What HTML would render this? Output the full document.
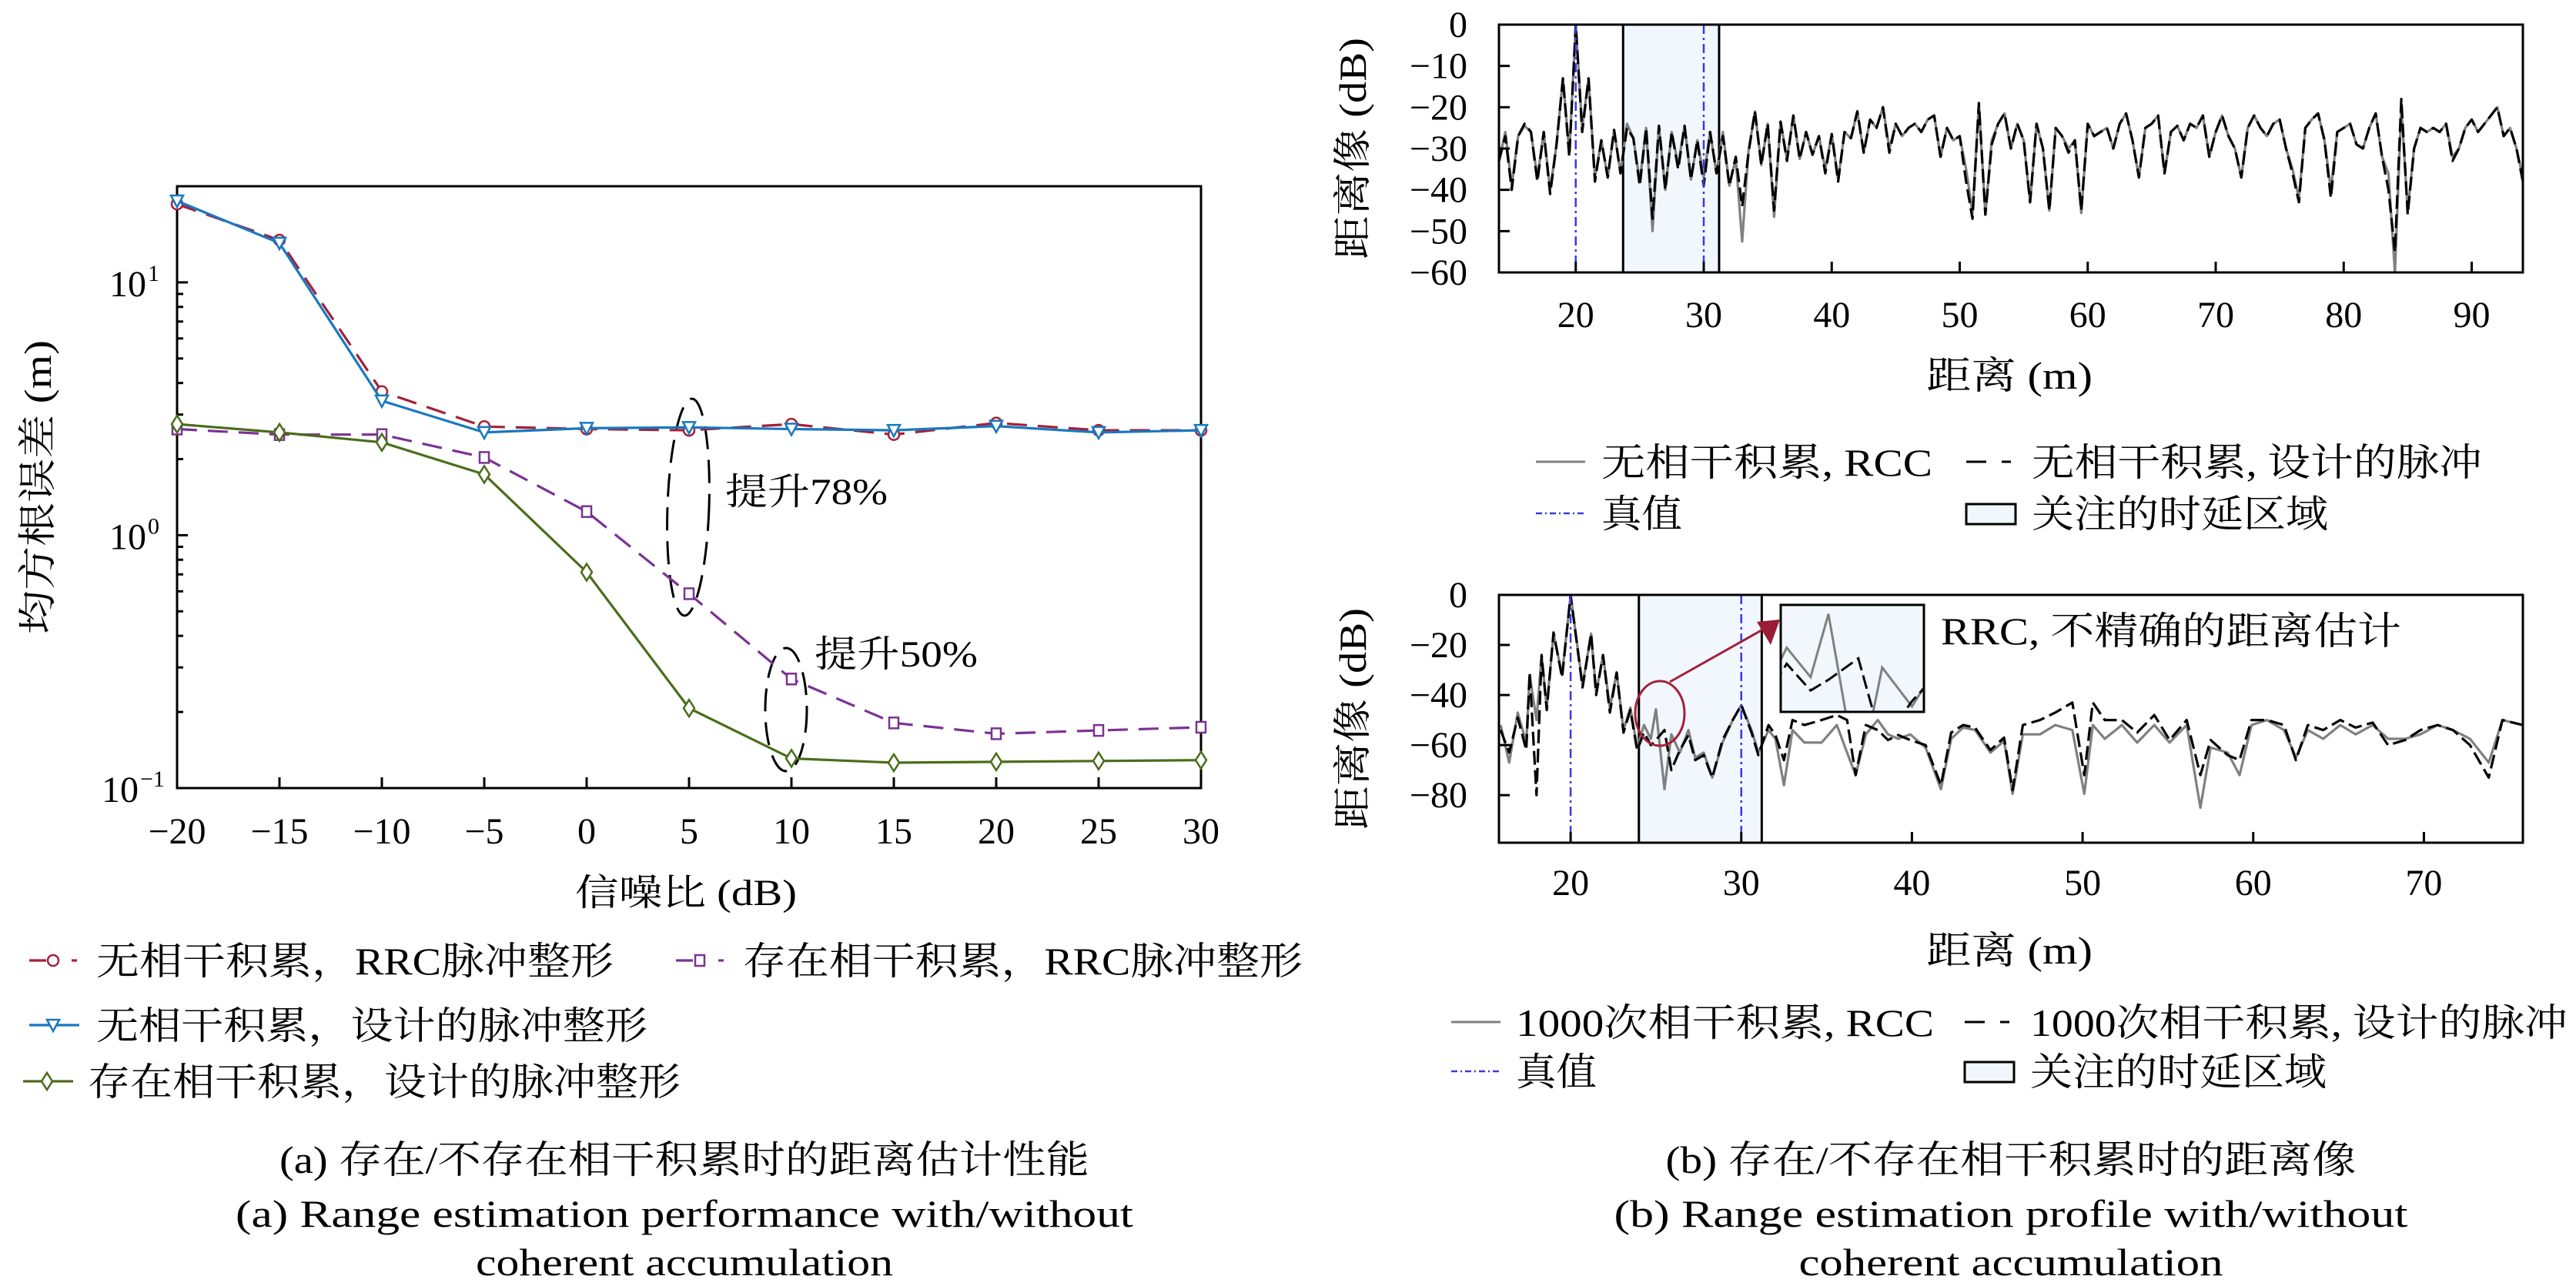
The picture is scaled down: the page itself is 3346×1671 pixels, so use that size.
<!DOCTYPE html>
<html><head><meta charset="utf-8"><style>
html,body{margin:0;padding:0;background:#fff;}
svg{display:block;}
text{font-family:"Liberation Serif","Noto Serif CJK SC","Noto Sans CJK SC",serif;fill:#000;}
</style></head><body>
<svg id="fig" width="3346" height="1671" viewBox="0 0 3346 1671" xmlns="http://www.w3.org/2000/svg">
<g id="left"></g>
<g id="rt"></g>
<g id="rb"></g>
</svg>
<script>
// ---------- Left chart data ----------
const snrCats = [-20,-15,-10,-5,0,5,10,15,20,25,30];
const rmseNoAccRRC = [20.4,14.7,3.7,2.69,2.63,2.6,2.75,2.5,2.78,2.6,2.6];
const rmseNoAccDesign = [21,14.3,3.4,2.55,2.65,2.67,2.63,2.6,2.7,2.55,2.6];
const rmseAccRRC = [2.63,2.5,2.5,2.03,1.24,0.587,0.27,0.181,0.164,0.169,0.174];
const rmseAccDesign = [2.75,2.55,2.33,1.74,0.714,0.207,0.131,0.126,0.127,0.128,0.129];
const yDecadeLabels = ["10","10","10"];
const yDecadeExps = [1,0,-1];

// ---------- Top right data (step grid) ----------
const topStart = 14, topStep = 0.5;
const topGray = [-33,-26,-39,-27,-24.5,-26,-37,-26,-40,-29,-13,-31,0,-25,-13,-37,-28,-37,-25.5,-36,-24,-27.5,-38,-25,-50,-24.5,-40,-26,-34,-24.5,-37.5,-28,-37,-26,-36,-26,-39,-32.5,-52.5,-30.5,-21,-34,-24,-46.5,-23.5,-32.5,-22,-32.5,-26,-31.5,-27,-35,-26.5,-37.5,-26,-27.5,-21,-31,-23,-25,-20,-30,-24,-27,-25,-24,-26,-23,-22,-32,-25,-28,-27,-35,-45.6,-19,-46,-28,-24,-21.5,-30,-24,-28,-43,-24,-30,-45,-25,-27,-30,-28,-45.6,-24,-27,-26,-25,-30,-24,-21.5,-28,-37,-25,-24,-22,-36,-26,-24.5,-28,-24,-25,-22,-32,-26,-22,-27,-30,-37,-25,-22,-25,-27,-24,-23,-30,-35,-42,-25,-23,-21.5,-28,-40,-26,-25,-24,-29,-30,-25,-21.5,-32,-36,-60,-20,-45,-30,-25,-26,-25,-26,-24,-32,-30,-25,-23,-26,-24,-22,-20,-27,-25,-30,-37];
const topBlack = [-33,-27,-40,-27,-24,-26,-38,-26,-41,-29,-13,-32,0,-26,-13,-38,-28,-37,-25.5,-36,-25,-27.5,-39,-25,-47,-24.5,-40,-26,-35,-24.5,-37.5,-28,-39,-26,-36,-27,-39,-32,-44,-31,-21,-34,-24,-45,-23.5,-33,-22,-32.5,-26,-31.5,-27,-36,-26.5,-38,-26,-27.5,-21,-31,-23,-25,-20,-31,-24,-27,-25,-24,-26,-23,-22,-32,-25,-28,-27,-38,-47,-19,-46,-29,-24,-21.5,-30,-24,-28,-43,-24,-30,-45,-25,-27,-31,-28,-45,-24,-27,-26,-25,-30,-24,-21.5,-28,-37,-25,-24,-22,-36,-26,-24.5,-28,-24,-25,-22,-32,-26,-22,-27,-30,-37,-25,-22,-25,-27,-24,-23,-30,-36,-43,-25,-23,-21.5,-28,-42,-26,-25,-24,-29,-30,-25,-21.5,-32,-40,-55,-18,-46,-30,-25,-26,-25,-26,-24,-33,-30,-25,-23,-26,-24,-22,-20,-27,-25,-30,-38];
const topTruth = [20,30];
const topRegion = [23.7,31.2];
const topXTicks = [20,30,40,50,60,70,80,90];
const topYTicks = [0,-10,-20,-30,-40,-50,-60];

// ---------- Bottom right data ----------
const botX = [15.9,16.4,16.9,17.4,17.6,18.0,18.3,18.6,19.0,19.5,20,20.7,21.2,21.5,21.9,22.3,22.7,23.1,23.5,23.9,24.3,24.7,25.0,25.5,25.9,26.4,26.9,27.3,27.8,28.3,28.9,29.5,30.0,30.6,31.0,31.6,32.0,32.5,33.0,33.7,34.7,35.6,36.2,36.7,37.3,38.0,38.6,39.2,39.9,40.8,41.7,42.3,43.0,43.7,44.6,45.4,45.9,46.5,47.5,48.4,49.4,50.1,50.6,51.3,52.3,53.2,54.2,55.1,56.1,56.9,57.5,58.5,59.2,59.9,60.8,61.8,62.5,63.2,64.1,65.1,66.0,67.0,67.9,68.9,69.8,70.8,71.7,72.7,73.8,74.6,75.8];
const botGray = [-52,-67,-47,-59,-32,-50,-24,-45,-15.5,-32,0,-36,-15.5,-39,-24,-45,-31,-54,-45,-61,-52,-57.5,-45.7,-77.6,-55.7,-63,-54,-65,-63,-73,-59,-50,-44,-54,-63,-54,-57.5,-76,-54,-59,-59,-52,-63,-72,-55.7,-50,-55.7,-57.5,-55.7,-61,-77.6,-57.5,-53,-54,-63,-58.4,-79.5,-55.7,-55.7,-52,-54,-79.5,-52,-57.5,-52,-59,-52,-59,-52,-85,-61,-63,-72,-52,-50,-54,-65,-54,-57.5,-52,-55.7,-52,-57.5,-57.5,-55.7,-52,-54,-57.5,-67,-50,-52];
const botBlack = [-54,-63,-49,-62,-31,-80,-24,-46,-15,-33,0,-37,-15.5,-40,-24,-47,-31,-55,-46,-62,-55,-60,-58,-54,-70,-62,-56,-66,-64,-73,-58,-50,-44,-55,-64,-52,-56,-66,-50,-52,-50,-48,-50,-72,-52,-54,-58,-56,-58,-60,-76,-55,-52,-53,-62,-57,-78,-52,-50,-47,-43,-72,-43,-50,-50,-55,-48,-58,-50,-72,-58,-64,-66,-50,-50,-52,-66,-52,-54,-50,-53,-51,-60,-58,-54,-52,-54,-60,-73,-50,-52];
const botTruth = [20,30];
const botRegion = [24,31.2];
const botXTicks = [20,30,40,50,60,70];
const botYTicks = [0,-20,-40,-60,-80];

const NS = "http://www.w3.org/2000/svg";
function mk(parent, tag, attrs, txt){
  const e = document.createElementNS(NS, tag);
  for (const k in attrs) e.setAttribute(k, attrs[k]);
  if (txt !== undefined) e.textContent = txt;
  parent.appendChild(e);
  return e;
}
function fit(e, w){ e.setAttribute('textLength', w); e.setAttribute('lengthAdjust','spacingAndGlyphs'); return e; }

// ================= LEFT CHART =================
(function(){
  const g = document.getElementById('left');
  const L=230,R=1560,T=242,B=1024;
  const ymax=Math.log10(24.0), ymin=-1;
  const sx = v => L + (v+20)/50*(R-L);
  const sy = v => B - (Math.log10(v)-ymin)/(ymax-ymin)*(B-T);
  let e = mk(g,'rect',{x:L,y:T,width:R-L,height:B-T,fill:'none',stroke:'#000','stroke-width':3});
   
  snrCats.forEach(c=>{
    let t = mk(g,'line',{x1:sx(c),x2:sx(c),y1:B,y2:B-14,stroke:'#000','stroke-width':3});
     
    let lb = mk(g,'text',{x:sx(c),y:1096,'font-size':48,'text-anchor':'middle'}, c<0?('\u2212'+(-c)):String(c));
     
  });
  for (let d=-1; d<=1; d++){
    for (let m=1; m<=9; m++){
      const v = m*Math.pow(10,d);
      if (v>24) continue;
      const major = m===1;
      let t = mk(g,'line',{x1:L,x2:L+(major?14:8),y1:sy(v),y2:sy(v),stroke:'#000','stroke-width':3});
       
    }
  }
  yDecadeExps.forEach((ex,i)=>{
    const y = sy(Math.pow(10,ex));
    let lb = mk(g,'text',{x:ex<0?180:190,y:y+18,'font-size':48,'text-anchor':'end'}, yDecadeLabels[i]);
     
    let sp = mk(g,'text',{x:ex<0?182:192,y:y-2,'font-size':30,'text-anchor':'start'}, ex<0?'\u22121':String(ex));
     
  });
  let el1 = mk(g,'ellipse',{cx:894,cy:659,rx:27,ry:141,fill:'none',stroke:'#000','stroke-width':3,'stroke-dasharray':'30,14',transform:'rotate(2 894 659)'});
   
  let el2 = mk(g,'ellipse',{cx:1021,cy:922,rx:27,ry:80,fill:'none',stroke:'#000','stroke-width':3,'stroke-dasharray':'30,14'});
   
  let a1 = fit(mk(g,'text',{x:942,y:655,'font-size':48},'提升78%'),211);
   
  let a2 = fit(mk(g,'text',{x:1058,y:866,'font-size':48},'提升50%'),212);
   

  function marker(parent, type, x, y, color){
    let m;
    if (type==='circle') m = mk(parent,'circle',{cx:x,cy:y,r:7,fill:'#fff',stroke:color,'stroke-width':2.5});
    else if (type==='tri') m = mk(parent,'polygon',{points:`${x-8},${y-7} ${x+8},${y-7} ${x},${y+8}`,fill:'#fff',stroke:color,'stroke-width':2.5});
    else if (type==='square') m = mk(parent,'rect',{x:x-6,y:y-7,width:12,height:14,fill:'#fff',stroke:color,'stroke-width':2.5});
    else m = mk(parent,'polygon',{points:`${x},${y-11} ${x+7},${y} ${x},${y+11} ${x-7},${y}`,fill:'#fff',stroke:color,'stroke-width':2.5});
    return m;
  }
  const series = [
    {vals:rmseAccRRC,color:'#7b3294',dash:'26,14',mk:'square',name:'series-acc-rrc'},
    {vals:rmseAccDesign,color:'#4a6d1a',dash:'',mk:'diamond',name:'series-acc-designed'},
    {vals:rmseNoAccRRC,color:'#a3203a',dash:'26,14',mk:'circle',name:'series-noacc-rrc'},
    {vals:rmseNoAccDesign,color:'#1878c0',dash:'',mk:'tri',name:'series-noacc-designed'}
  ];
  series.forEach(s=>{
    const sg = mk(g,'g',{});
     
    const d = s.vals.map((v,i)=>(i?'L':'M')+sx(snrCats[i]).toFixed(1)+','+sy(v).toFixed(1)).join(' ');
    let p = mk(sg,'path',{d:d,fill:'none',stroke:s.color,'stroke-width':3.2,'stroke-dasharray':s.dash});
     
    s.vals.forEach((v,i)=>{
      let m = marker(sg,s.mk,sx(snrCats[i]),sy(v),s.color);
       
    });
  });
  let xt = fit(mk(g,'text',{x:891,y:1176,'font-size':48,'text-anchor':'middle'},'信噪比 (dB)'),288);
   
  let yt = fit(mk(g,'text',{x:0,y:0,'font-size':50,'text-anchor':'middle',transform:'translate(66,633) rotate(-90)'},'均方根误差 (m)'),382);
   
  const leg = [
    {x:38,y:1248,color:'#a3203a',dash:true,mk:'circle',t:'无相干积累，RRC脉冲整形',tx:125,w:672},
    {x:878,y:1248,color:'#7b3294',dash:true,mk:'square',t:'存在相干积累，RRC脉冲整形',tx:965,w:727},
    {x:38,y:1332,color:'#1878c0',dash:false,mk:'tri',t:'无相干积累，设计的脉冲整形',tx:125,w:716},
    {x:30,y:1405,color:'#4a6d1a',dash:false,mk:'diamond',t:'存在相干积累，设计的脉冲整形',tx:114,w:770}
  ];
  leg.forEach(l=>{
    const lg = mk(g,'g',{});
     
    if (l.dash){
      mk(lg,'line',{x1:l.x,x2:l.x+22,y1:l.y,y2:l.y,stroke:l.color,'stroke-width':3.2});
      mk(lg,'line',{x1:l.x+55,x2:l.x+62,y1:l.y,y2:l.y,stroke:l.color,'stroke-width':3.2});
    } else mk(lg,'line',{x1:l.x,x2:l.x+65,y1:l.y,y2:l.y,stroke:l.color,'stroke-width':3.2});
    marker(lg,l.mk,l.x+31,l.y,l.color);
    fit(mk(lg,'text',{x:l.tx,y:l.y+18,'font-size':50},l.t),l.w);
  });
  const caps = [['(a) 存在/不存在相干积累时的距离估计性能',1524,1052],['(a) Range estimation performance with/without',1594,1166],['coherent accumulation',1657,542]];
  caps.forEach((c,i)=>{
    let t = fit(mk(g,'text',{x:889,y:c[1],'font-size':50,'text-anchor':'middle'},c[0]),c[2]);
     
  });
})();

// ================= RIGHT PROFILE CHART helper =================
function profileChart(gid, cfg){
  const g = document.getElementById(gid);
  const {L,R,T,B,x0,x1,y0,y1} = cfg;
  const sx = v => L + (v-x0)/(x1-x0)*(R-L);
  const sy = v => T + (y0-v)/(y0-y1)*(B-T);
  const clipId = gid+'-clip';
  const defs = mk(g,'defs',{});
  const cp = mk(defs,'clipPath',{id:clipId});
  mk(cp,'rect',{x:L,y:T,width:R-L,height:B-T});
  let reg = mk(g,'rect',{x:sx(cfg.region[0]),y:T,width:sx(cfg.region[1])-sx(cfg.region[0]),height:B-T,fill:'#f1f7fc',stroke:'#000','stroke-width':3});
   
  const pts = (xs,ys)=>ys.map((v,i)=>(i?'L':'M')+sx(xs[i]).toFixed(1)+','+sy(v).toFixed(1)).join(' ');
  const cg = mk(g,'g',{'clip-path':`url(#${clipId})`});
  let pg = mk(cg,'path',{d:pts(cfg.xs,cfg.gray),fill:'none',stroke:'#808080','stroke-width':3.2,'stroke-linejoin':'round'});
   
  let pb = mk(cg,'path',{d:pts(cfg.xs,cfg.black),fill:'none',stroke:'#000','stroke-width':3.2,'stroke-dasharray':'18,7','stroke-linejoin':'round'});
   
  cfg.truth.forEach(tv=>{
    let tl = mk(g,'line',{x1:sx(tv),x2:sx(tv),y1:T,y2:B,stroke:'#3a3ae0','stroke-width':2.5,'stroke-dasharray':'12,5,3,5'});
     
  });
  let fr = mk(g,'rect',{x:L,y:T,width:R-L,height:B-T,fill:'none',stroke:'#000','stroke-width':3});
   
  cfg.xticks.forEach(v=>{
    let t = mk(g,'line',{x1:sx(v),x2:sx(v),y1:B,y2:B-14,stroke:'#000','stroke-width':3});
     
    let lb = mk(g,'text',{x:sx(v),y:cfg.xlabY,'font-size':48,'text-anchor':'middle'},String(v));
     
  });
  cfg.yticks.forEach(v=>{
    let t = mk(g,'line',{x1:L,x2:L+14,y1:sy(v),y2:sy(v),stroke:'#000','stroke-width':3});
     
    let lb = mk(g,'text',{x:1906,y:sy(v)+16,'font-size':48,'text-anchor':'end'},v<0?('\u2212'+(-v)):String(v));
     
  });
  let xt = fit(mk(g,'text',{x:2610,y:cfg.xtitleY,'font-size':50,'text-anchor':'middle'},'距离 (m)'),216);
   
  let yt = fit(mk(g,'text',{x:0,y:0,'font-size':50,'text-anchor':'middle',transform:`translate(1774,${cfg.ytitleC}) rotate(-90)`},'距离像 (dB)'),288);
   
  const lg = cfg.legend;
  function entry(kind,x,y,txt,tx,w){
    const eg = mk(g,'g',{});
     
    if (kind==='gray') mk(eg,'line',{x1:x,x2:x+64,y1:y,y2:y,stroke:'#808080','stroke-width':3});
    if (kind==='black'){ mk(eg,'line',{x1:x,x2:x+26,y1:y,y2:y,stroke:'#000','stroke-width':3}); mk(eg,'line',{x1:x+46,x2:x+58,y1:y,y2:y,stroke:'#000','stroke-width':3}); }
    if (kind==='truth') mk(eg,'line',{x1:x,x2:x+64,y1:y,y2:y,stroke:'#3a3ae0','stroke-width':2.5,'stroke-dasharray':'8,4,2,4'});
    if (kind==='rect') mk(eg,'rect',{x:x,y:y-12,width:64,height:26,fill:'#f1f7fc',stroke:'#000','stroke-width':3});
    fit(mk(eg,'text',{x:tx,y:y+18,'font-size':50},txt),w);
  }
  entry('gray',lg.c1,lg.r1,lg.t1,lg.c1t,lg.w1);
  entry('black',lg.c2,lg.r1,lg.t2,lg.c2t,lg.w2);
  entry('truth',lg.c1,lg.r2,'真值',lg.c1t,105);
  entry('rect',lg.c2,lg.r2,'关注的时延区域',lg.c2t,385);
  return {sx,sy,g,pts};
}

profileChart('rt',{L:1947,R:3277,T:32,B:354,x0:14,x1:94,y0:0,y1:-60,
  xs:topGray.map((_,i)=>topStart+i*topStep),gray:topGray,black:topBlack,truth:topTruth,region:topRegion,
  xticks:topXTicks,yticks:topYTicks,xlabY:425,xtitleY:505,ytitleC:193,
  legend:{c1:1995,c1t:2080,c2:2554,c2t:2639,r1:600,r2:667,t1:'无相干积累, RCC',t2:'无相干积累, 设计的脉冲',w1:430,w2:585}});

const bc = profileChart('rb',{L:1947,R:3277,T:773,B:1095,x0:15.8,x1:75.8,y0:0,y1:-99,
  xs:botX,gray:botGray,black:botBlack,truth:botTruth,region:botRegion,
  xticks:botXTicks,yticks:botYTicks,xlabY:1095+68,xtitleY:1252,ytitleC:934,
  legend:{c1:1885,c1t:1969,c2:2552,c2t:2637,r1:1328,r2:1392,t1:'1000次相干积累, RCC',t2:'1000次相干积累, 设计的脉冲',w1:543,w2:698}});

(function(){
  const g = bc.g;
  const IL=2313,IR=2499,IT=786,IB=925;
  const ix0=24.2, ix1=26.6, iy0=-44, iy1=-64;
  const isx = v => IL + (v-ix0)/(ix1-ix0)*(IR-IL);
  const isy = v => IT + (iy0-v)/(iy0-iy1)*(IB-IT);
  const defs = mk(g,'defs',{});
  const cp = mk(defs,'clipPath',{id:'inset-clip'});
  mk(cp,'rect',{x:IL,y:IT,width:IR-IL,height:IB-IT});
  let bg = mk(g,'rect',{x:IL,y:IT,width:IR-IL,height:IB-IT,fill:'#f1f7fc'});
   
  const ig = mk(g,'g',{'clip-path':'url(#inset-clip)'});
   
  const ip = (ys)=>ys.map((v,i)=>(i?'L':'M')+isx(botX[i]).toFixed(1)+','+isy(v).toFixed(1)).join(' ');
  mk(ig,'path',{d:ip(botGray),fill:'none',stroke:'#808080','stroke-width':3});
  mk(ig,'path',{d:ip(botBlack),fill:'none',stroke:'#000','stroke-width':3,'stroke-dasharray':'18,7'});
  let fr = mk(g,'rect',{x:IL,y:IT,width:IR-IL,height:IB-IT,fill:'none',stroke:'#000','stroke-width':3});
   
  let ell = mk(g,'ellipse',{cx:2156,cy:927,rx:32,ry:42,fill:'none',stroke:'#a3203a','stroke-width':3});
   
  let ar = mk(g,'line',{x1:2169,y1:886,x2:2295,y2:815,stroke:'#a3203a','stroke-width':3});
   
  let ah = mk(g,'polygon',{points:'2312,805 2282,808 2300,838',fill:'#9b1c34'});
   
  let at = fit(mk(g,'text',{x:2521,y:837,'font-size':50},'RRC, 不精确的距离估计'),598);
   
  const caps = [['(b) 存在/不存在相干积累时的距离像',1524,897],['(b) Range estimation profile with/without',1594,1031],['coherent accumulation',1657,551]];
  caps.forEach((c,i)=>{
    let t = fit(mk(g,'text',{x:2612,y:c[1],'font-size':50,'text-anchor':'middle'},c[0]),c[2]);
     
  });
})();
</script>
</body></html>
